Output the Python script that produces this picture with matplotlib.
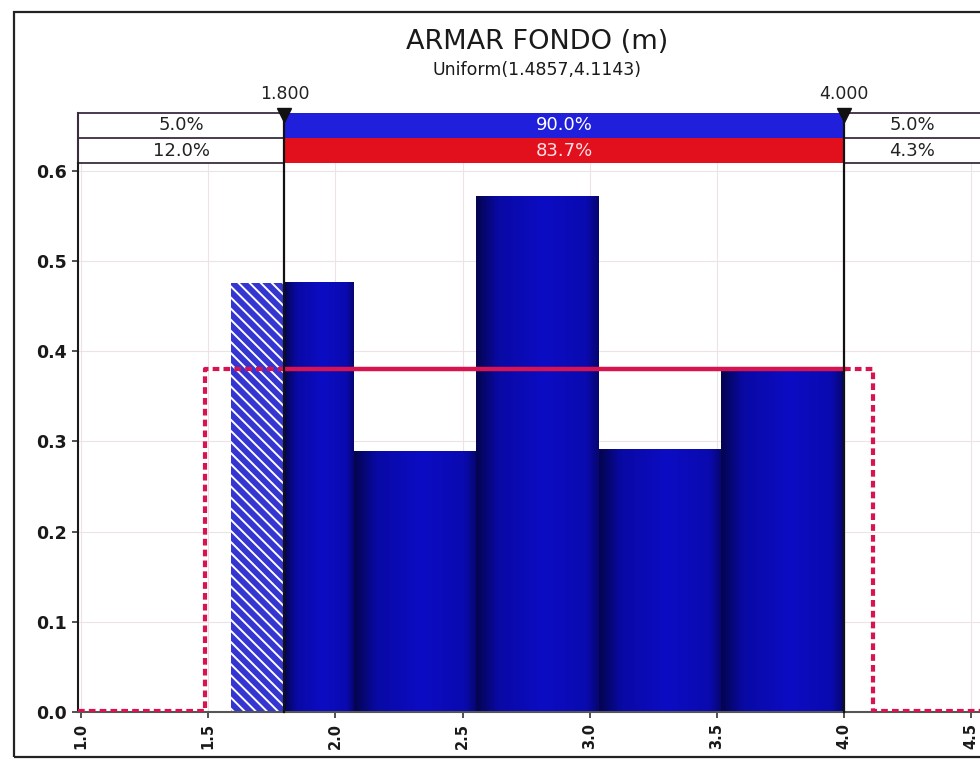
import numpy as np
import matplotlib
matplotlib.use("Agg")
import matplotlib.pyplot as plt
from matplotlib.patches import Rectangle
from matplotlib.colors import LinearSegmentedColormap
from matplotlib.transforms import blended_transform_factory

# --- data ---------------------------------------------------------------
title = "ARMAR FONDO (m)"
subtitle = "Uniform(1.4857,4.1143)"
bin_edges = [1.59, 2.072, 2.554, 3.036, 3.518, 4.0]
density = [0.476, 0.289, 0.571, 0.291, 0.382]
unif_a, unif_b = 1.4857, 4.1143
delim_low, delim_high = 1.8, 4.0
delim_labels = ["1.800", "4.000"]
fit_pcts = ["5.0%", "90.0%", "5.0%"]
data_pcts = ["12.0%", "83.7%", "4.3%"]
x_ticks = [1.0, 1.5, 2.0, 2.5, 3.0, 3.5, 4.0, 4.5]
y_ticks = [0.0, 0.1, 0.2, 0.3, 0.4, 0.5, 0.6]

W, H = 980, 765
fig = plt.figure(figsize=(W / 100, H / 100), dpi=100)
fig.patch.set_facecolor("white")

ax_left, ax_bottom, ax_top = 78, 712, 163
ax = fig.add_axes([ax_left / W, 1 - ax_bottom / H, 1 - ax_left / W, (ax_bottom - ax_top) / H])
xmin, xmax = 0.988, 4.535
ymax = (ax_bottom - ax_top) / 902.0
ax.set_xlim(xmin, xmax)
ax.set_ylim(0, ymax)

# grid
ax.set_axisbelow(True)
ax.grid(True, color="#ece2e8", lw=0.8)

# histogram bars with a horizontal shading
cmap = LinearSegmentedColormap.from_list(
    "barshade", [(0.0, "#04044e"), (0.18, "#0909a4"), (0.55, "#0c0cc4"), (0.9, "#0a0ab0"), (1.0, "#06066e")])
grad = np.linspace(0, 1, 256).reshape(1, -1)
plt.rcParams["hatch.linewidth"] = 1.4
for i, h in enumerate(density):
    x0, x1 = bin_edges[i], bin_edges[i + 1]
    if x0 < delim_low < x1:
        # portion of the bar left of the lower delimiter is hatched
        ax.add_patch(Rectangle((x0, 0), delim_low - x0, h, facecolor="#3535d2",
                               edgecolor="white", hatch="\\\\\\", lw=0, zorder=2))
        x0 = delim_low
    ax.imshow(grad, cmap=cmap, extent=[x0, x1, 0, h], aspect="auto", zorder=2,
              interpolation="bicubic")
ax.set_xlim(xmin, xmax)
ax.set_ylim(0, ymax)

# fitted uniform density
pdf = 1.0 / (unif_b - unif_a)
red = "#d81450"
dash = (0, (1.6, 1.0))
ax.plot([xmin, unif_a, unif_a, delim_low], [0.001, 0.001, pdf, pdf], color=red, lw=3,
        ls=dash, zorder=4, solid_capstyle="butt")
ax.plot([delim_low, delim_high], [pdf, pdf], color=red, lw=3.2, zorder=4)
ax.plot([delim_high, unif_b, unif_b, xmax], [pdf, pdf, 0.001, 0.001], color=red, lw=3,
        ls=dash, zorder=4, solid_capstyle="butt")

# delimiter band above the plot
trans = blended_transform_factory(ax.transData, ax.transAxes)
row_h = 25 / (ax_bottom - ax_top)
r2_lo, r2_hi = 1.0, 1.0 + row_h
r1_lo, r1_hi = r2_hi, r2_hi + row_h
band_line = "#3a2c3e"
ax.add_patch(Rectangle((delim_low, r1_lo), delim_high - delim_low, row_h, transform=trans,
                       facecolor="#2020dc", edgecolor="none", clip_on=False, zorder=3))
ax.add_patch(Rectangle((delim_low, r2_lo), delim_high - delim_low, row_h, transform=trans,
                       facecolor="#e2101c", edgecolor="none", clip_on=False, zorder=3))
for yy in (r1_hi, r1_lo, r2_lo):
    ax.plot([xmin, delim_low], [yy, yy], color=band_line, lw=1.3, transform=trans, clip_on=False)
    ax.plot([delim_high, xmax], [yy, yy], color=band_line, lw=1.3, transform=trans, clip_on=False)
ax.plot([xmin, xmin], [r2_lo, r1_hi], color=band_line, lw=1.5, transform=trans, clip_on=False)

txt_kw = dict(transform=trans, ha="center", va="center", fontsize=13, clip_on=False, zorder=5)
mid_l = (xmin + delim_low) / 2
mid_c = (delim_low + delim_high) / 2
mid_r = (delim_high + xmax) / 2
for row_y, vals, mid_col in (((r1_lo + r1_hi) / 2, fit_pcts, "white"),
                             ((r2_lo + r2_hi) / 2, data_pcts, "#ffe0e8")):
    ax.text(mid_l, row_y, vals[0], color="#222222", **txt_kw)
    ax.text(mid_c, row_y, vals[1], color=mid_col, **txt_kw)
    ax.text(mid_r, row_y, vals[2], color="#222222", **txt_kw)

# delimiter lines, markers and labels
for xv, lab in zip((delim_low, delim_high), delim_labels):
    ax.plot([xv, xv], [0, r1_hi], color="#111111", lw=1.6, transform=trans, clip_on=False, zorder=6)
    ax.plot([xv], [r1_hi - 0.004], marker="v", ms=10, color="#111111", transform=trans,
            clip_on=False, zorder=7)
    ax.text(xv, r1_hi + 0.018, lab, transform=trans, ha="center", va="bottom",
            fontsize=12.5, color="#222222", clip_on=False)

# titles
fig.text(537 / W, 1 - 42 / H, title, ha="center", va="center", fontsize=19.5, color="#1a1a1a")
fig.text(537 / W, 1 - 70 / H, subtitle, ha="center", va="center", fontsize=12.5, color="#1a1a1a")

# axes styling
for s in ("top", "right"):
    ax.spines[s].set_visible(False)
ax.spines["left"].set_color("#1a1a1a")
ax.spines["left"].set_linewidth(1.5)
ax.spines["bottom"].set_color("#555555")
ax.spines["bottom"].set_linewidth(1.5)
ax.set_yticks(y_ticks)
ax.set_yticklabels([f"{v:.1f}" for v in y_ticks], fontsize=12.5, fontweight="bold", color="#1a1a1a")
ax.set_xticks(x_ticks)
ax.set_xticklabels([f"{v:.1f}" for v in x_ticks], fontsize=10.5, fontweight="bold", rotation=90,
                   color="#1a1a1a")
ax.tick_params(axis="both", length=4, width=1.2, color="#333333", pad=4)

# outer frame
fig.patches.append(Rectangle((14 / W, 1 - 757 / H), 1.0, (757 - 12) / H, transform=fig.transFigure,
                             facecolor="none", edgecolor="#222222", lw=1.6))

fig.savefig("out.png", dpi=100)
